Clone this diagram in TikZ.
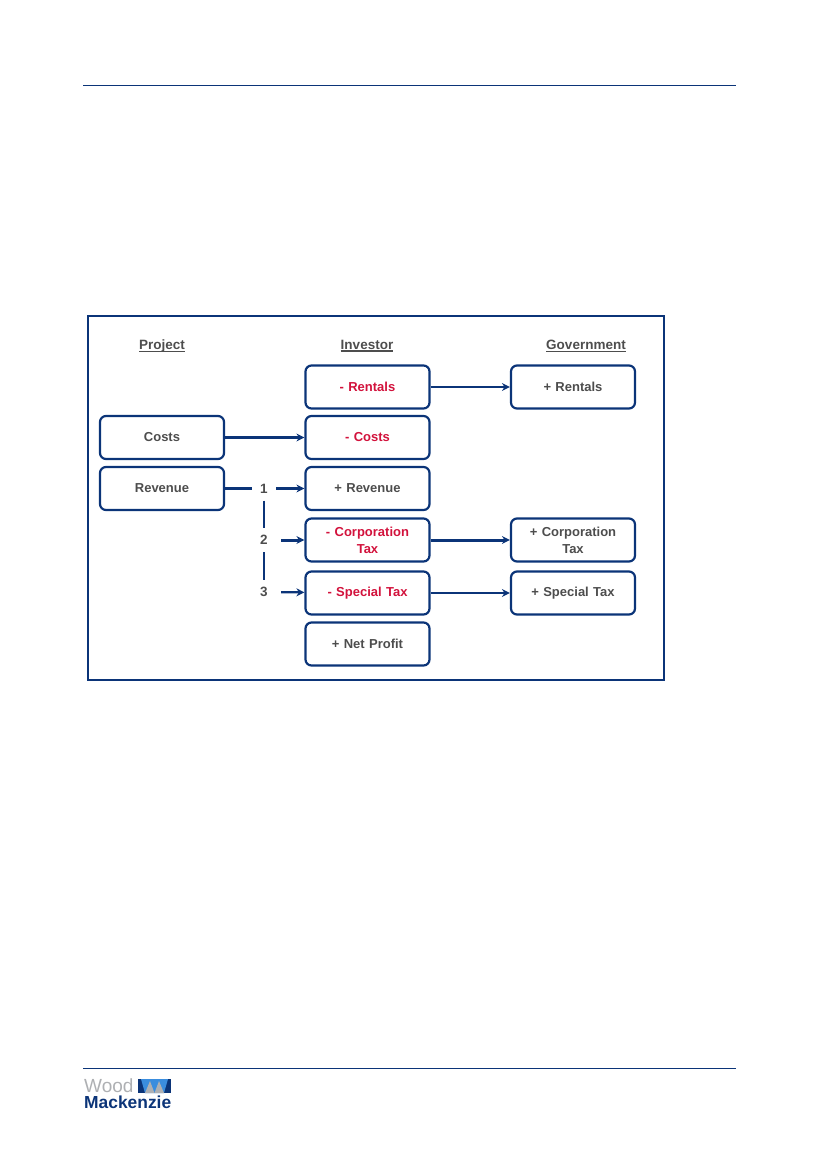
\documentclass[tikz,border=0pt]{standalone}
\usepackage{fontspec}
\setmainfont{Liberation Sans}
\usetikzlibrary{arrows.meta}
\definecolor{navy}{HTML}{0B3478}
\definecolor{txtgrey}{HTML}{4D4D4D}
\definecolor{txtred}{HTML}{D2123C}
\definecolor{logogrey}{HTML}{AEB0B3}
\definecolor{logoblue}{HTML}{3A8DDE}
\newcommand{\headrule}[1]{\setbox0\hbox{#1}\rlap{\rule[-2.6pt]{\wd0}{1.5pt}}\box0}
\tikzset{
	box/.style={draw=navy,line width=2.2pt,rounded corners=6pt,minimum width=124pt,minimum height=43pt,text width=112pt,align=center,inner sep=0pt,font=\fontsize{13}{17}\selectfont\bfseries,text=txtgrey},
	redbox/.style={box,text=txtred},
	head/.style={font=\fontsize{13.5}{15}\selectfont\bfseries,text=txtgrey},
	num/.style={minimum width=24pt,minimum height=24pt,inner sep=0pt,font=\fontsize{13.5}{15}\selectfont\bfseries,text=txtgrey},
	link/.style={draw=navy,line width=2.2pt},
	arr/.style={link,-{Stealth[length=8pt,width=8pt]}}
}
\begin{document}
\begin{tikzpicture}[x=1pt,y=-1pt]
	\useasboundingbox (0,0) rectangle (816,1152);
	\coordinate (TL) at (83,85);
	\coordinate (TR) at (736,85);
	\coordinate (BL) at (83,1068);
	\coordinate (BR) at (736,1068);
	\draw[navy,line width=1pt] (TL)--(TR);
	\draw[navy,line width=1pt] (BL)--(BR);
	\draw[navy,line width=2.4pt] (88,316) rectangle (664,680);

	\node[head] (PH) at (162,346) {\headrule{Project}};
	\node[head] (IH) at (367,346) {\headrule{Investor}};
	\node[head] (GH) at (586,346) {\headrule{Government}};

	\node[box] (PC) at (162,437.5) {Costs};
	\node[box] (PR) at (162,488.5) {Revenue};

	\node[redbox] (IR) at (367.5,387) {- Rentals};
	\node[redbox] (IC) at (367.5,437.5) {- Costs};
	\node[box] (IV) at (367.5,488.5) {+ Revenue};
	\node[redbox] (IT) at (367.5,540) {- Corporation\\Tax};
	\node[redbox] (IS) at (367.5,593) {- Special Tax};
	\node[box] (IN) at (367.5,644) {+ Net Profit};

	\node[box] (GR) at (573,387) {+ Rentals};
	\node[box] (GT) at (573,540) {+ Corporation\\Tax};
	\node[box] (GS) at (573,593) {+ Special Tax};

	\node[num] (NA) at (264,488.5) {1};
	\node[num] (NB) at (264,540) {2};
	\node[num] (NC) at (264,592) {3};

	\draw[arr] (IR)--(GR);
	\draw[arr] (PC)--(IC);
	\draw[link] (PR)--(NA);
	\draw[arr] (NA)--(IV);
	\draw[link] (NA)--(NB);
	\draw[link] (NB)--(NC);
	\draw[arr,line width=3pt,shorten <=5pt] (NB)--(IT);
	\draw[arr,line width=3pt] (IT)--(GT);
	\draw[arr,shorten <=5pt] (NC)--(IS);
	\draw[arr] (IS)--(GS);

	% logo
	\node[anchor=base west,inner sep=0pt,text=logogrey,font=\fontsize{19}{19}\selectfont] (LW) at (84,1092.6) {Wood};
	\node[anchor=base west,inner sep=0pt,text=navy,font=\fontsize{17.4}{18}\selectfont\bfseries] (LM) at (84,1108) {Mackenzie};
	\fill[navy] (138,1079) rectangle (171,1093);
	\fill[logoblue] (141,1079) -- (168,1079) -- (164,1093) -- (145,1093) -- cycle;
	\fill[logogrey] (145,1093) -- (150,1081) -- (154.5,1093) -- cycle;
	\fill[logogrey] (154.5,1093) -- (159,1081) -- (164,1093) -- cycle;
\end{tikzpicture}
\end{document}
